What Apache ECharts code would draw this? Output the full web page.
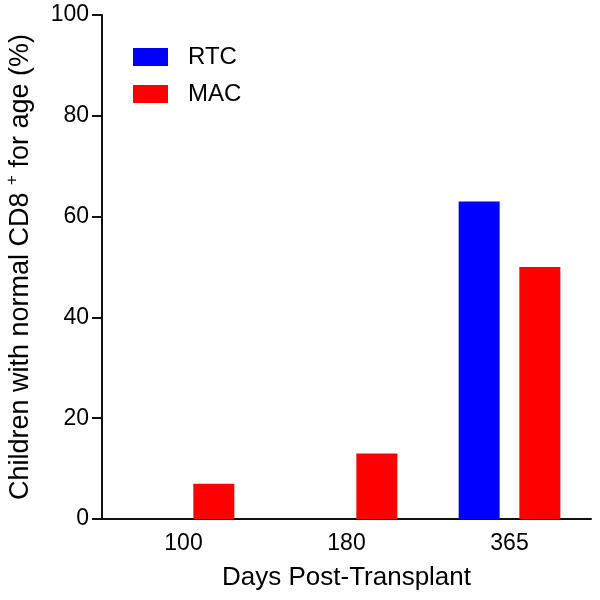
<!DOCTYPE html>
<html><head><meta charset="utf-8">
<script src="https://cdn.jsdelivr.net/npm/echarts@6/dist/echarts.min.js"></script>
<style>html,body{margin:0;padding:0;background:#fff}#c{width:600px;height:600px}</style>
</head><body><div id="c"></div>
<script>
var categories = ['100', '180', '365'];
var rtcValues = [0, 0, 63];
var macValues = [7, 13, 50];
var yTicks = [0, 20, 40, 60, 80, 100];

var chart = echarts.init(document.getElementById('c'));
var font = 'Liberation Sans, Arial, sans-serif';
chart.setOption({
  animation: false,
  backgroundColor: '#fff',
  grid: {left: 102, right: 9, top: 15, bottom: 81, containLabel: false, outerBoundsMode: 'none'},
  legend: {
    orient: 'vertical', left: 133, top: 45, padding: 0,
    itemWidth: 35, itemHeight: 18, itemGap: 13,
    icon: 'rect',
    textStyle: {fontFamily: font, fontSize: 24, lineHeight: 24, color: '#000', padding: [0, 0, 0, 15]},
    data: ['RTC', 'MAC']
  },
  xAxis: {
    type: 'category', data: categories,
    name: 'Days Post-Transplant', nameLocation: 'middle', nameGap: 46,
    nameTextStyle: {fontFamily: font, fontSize: 26, color: '#000'},
    axisLine: {lineStyle: {color: '#111', width: 2}},
    axisTick: {alignWithLabel: true, length: 8, lineStyle: {color: '#111', width: 2}},
    axisLabel: {fontFamily: font, fontSize: 23, color: '#000', margin: 13}
  },
  yAxis: {
    type: 'value', min: yTicks[0], max: yTicks[yTicks.length - 1], interval: 20,
    name: '{a|Children with normal CD8 }{s|+}{a| for age (%)}', nameLocation: 'middle', nameGap: 64,
    nameTextStyle: {fontFamily: font, fontSize: 27, color: '#000',
      rich: {a: {fontFamily: font, fontSize: 27, color: '#000'},
             s: {fontFamily: font, fontSize: 17, color: '#000', padding: [0, 0, 17, 0]}}},
    axisLine: {show: true, lineStyle: {color: '#111', width: 2}},
    axisTick: {show: true, length: 10, lineStyle: {color: '#111', width: 2}},
    axisLabel: {fontFamily: font, fontSize: 23, color: '#000', margin: 13},
    splitLine: {show: false}
  },
  series: [
    {name: 'RTC', type: 'bar', data: rtcValues, barWidth: 41, barGap: '48%', itemStyle: {color: '#0000ff'}},
    {name: 'MAC', type: 'bar', data: macValues, barWidth: 41, itemStyle: {color: '#ff0000'}}
  ]
});
</script></body></html>
